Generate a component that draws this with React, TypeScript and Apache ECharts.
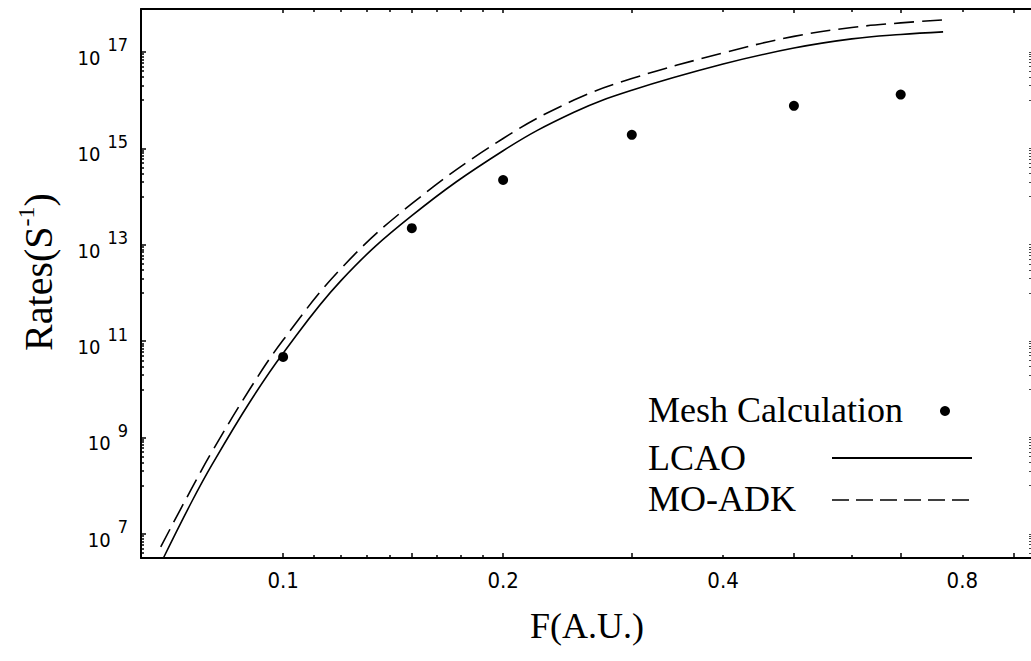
import { useEffect, useRef } from "react";
import * as echarts from "echarts";

// ---- data ----
const meshF = [0.1, 0.15, 0.2, 0.3, 0.5, 0.7];
const meshRate = [4.7e10, 2.2e13, 2.2e14, 1.9e15, 7.6e15, 1.3e16];

const lcaoF = [0.0686, 0.075, 0.08, 0.09, 0.1, 0.12, 0.15, 0.2, 0.25, 0.3, 0.4, 0.5, 0.6, 0.7, 0.8];
const lcaoRate = [3.2e6, 4.7e7, 2.8e8, 5.4e9, 5.6e10, 1.8e12, 4.0e13, 8.9e14, 5.6e15, 1.6e16, 5.6e16, 1.2e17, 1.86e17, 2.3e17, 2.6e17];

const adkF = [0.068, 0.075, 0.08, 0.09, 0.1, 0.12, 0.15, 0.2, 0.25, 0.3, 0.4, 0.5, 0.6, 0.7, 0.8];
const adkRate = [5.4e6, 8.9e7, 5.2e8, 1.0e10, 1.05e11, 3.2e12, 7.1e13, 1.6e15, 1.0e16, 2.8e16, 9.5e16, 2.1e17, 3.2e17, 4.0e17, 4.6e17];

// axis ranges / ticks
const xRange = [0.0639, 1.062];
const yExpRange = [6.5, 17.89];
const xMajorTicks = [0.1, 0.15, 0.2, 0.3, 0.5, 0.7, 1.0];
const xMinorTicks = [0.11, 0.12, 0.13, 0.14, 0.1625, 0.175, 0.1875, 0.4, 0.6, 0.85];
const xTickLabelAt = [0.1, 0.2, 0.4, 0.85];
const xTickLabels = ["0.1", "0.2", "0.4", "0.8"];
const yLabelExponents = [7, 9, 11, 13, 15, 17];
const yMinorMultipliers = [1, 2, 3, 4, 5, 6, 7, 8, 9];

const legendNames = ["Mesh Calculation", "LCAO", "MO-ADK"];

const SERIF = '"Liberation Serif", "Times New Roman", serif';
const NARROW = '"DejaVu Sans Condensed", "Liberation Sans Narrow", "DejaVu Sans", sans-serif';

const lg = (v: number) => Math.log10(v);

export default function App() {
  const ref = useRef<HTMLDivElement>(null);

  useEffect(() => {
    if (!ref.current) return;
    const chart = echarts.init(ref.current, null, { renderer: "svg" });

    const xMin = lg(xRange[0]);
    const xMax = lg(xRange[1]);
    const yMin = yExpRange[0];
    const yMax = yExpRange[1];

    const yMajor = yLabelExponents.slice();
    const yMinor: number[] = [];
    yLabelExponents.forEach((e) => {
      yMinorMultipliers.forEach((k) => yMinor.push(e - 1 + lg(k)));
    });

    const gridBox = { left: 141, top: 9, width: 892, height: 549, outerBoundsMode: "none" };

    const blankAxis = {
      type: "value",
      splitLine: { show: false },
      axisLabel: { show: false },
    };

    const xLabelFormatter = (v: number) => {
      const i = xTickLabelAt.findIndex((a) => Math.abs(lg(a) - v) < 1e-6);
      return i >= 0 ? xTickLabels[i] : "";
    };

    const option: any = {
      animation: false,
      backgroundColor: "#fff",
      grid: [gridBox, { ...gridBox }],
      xAxis: [
        {
          ...blankAxis,
          gridIndex: 0,
          position: "bottom",
          min: xMin,
          max: xMax,
          axisLine: { show: true, onZero: false, lineStyle: { color: "#000", width: 2 } },
          axisTick: { show: true, inside: true, length: 5, customValues: xMajorTicks.map(lg), lineStyle: { color: "#000", width: 1.5 } },
          axisLabel: {
            show: true,
            customValues: xTickLabelAt.map(lg),
            formatter: xLabelFormatter,
            margin: 11,
            color: "#000",
            fontSize: 22,
            fontFamily: NARROW,
          },
          name: "F(A.U.)",
          nameLocation: "middle",
          nameGap: 50,
          nameTextStyle: { color: "#000", fontSize: 36, fontFamily: SERIF },
        },
        {
          ...blankAxis,
          gridIndex: 0,
          position: "top",
          min: xMin,
          max: xMax,
          axisLine: { show: true, onZero: false, lineStyle: { color: "#000", width: 2 } },
          axisTick: { show: true, inside: true, length: 4, customValues: xMajorTicks.map(lg), lineStyle: { color: "#000", width: 1.5 } },
        },
        {
          ...blankAxis,
          gridIndex: 1,
          position: "bottom",
          min: xMin,
          max: xMax,
          axisLine: { show: false, onZero: false },
          axisTick: { show: true, inside: true, length: 3, customValues: xMinorTicks.map(lg), lineStyle: { color: "#000", width: 1.5 } },
        },
        {
          ...blankAxis,
          gridIndex: 1,
          position: "top",
          min: xMin,
          max: xMax,
          axisLine: { show: false, onZero: false },
          axisTick: { show: true, inside: true, length: 3, customValues: xMinorTicks.map(lg), lineStyle: { color: "#000", width: 1.5 } },
        },
      ],
      yAxis: [
        {
          ...blankAxis,
          gridIndex: 0,
          position: "left",
          min: yMin,
          max: yMax,
          axisLine: { show: true, onZero: false, lineStyle: { color: "#000", width: 2 } },
          axisTick: { show: true, inside: true, length: 5, customValues: yMajor, lineStyle: { color: "#000", width: 1.5 } },
          axisLabel: {
            show: true,
            customValues: yMajor,
            margin: 13,
            formatter: (v: number) => `{b|10}{s|${Math.round(v)}}`,
            rich: {
              b: { fontSize: 20, lineHeight: 32, verticalAlign: "bottom", color: "#000", fontFamily: NARROW },
              s: { fontSize: 18, lineHeight: 18, verticalAlign: "top", color: "#000", fontFamily: NARROW, padding: [0, 0, 0, 7] },
            },
          },
        },
        {
          ...blankAxis,
          gridIndex: 0,
          position: "right",
          min: yMin,
          max: yMax,
          axisLine: { show: false, onZero: false },
          axisTick: { show: true, inside: true, length: 4, customValues: yMinor.concat(yMajor), lineStyle: { color: "#444", width: 1 } },
        },
        {
          ...blankAxis,
          gridIndex: 1,
          position: "left",
          min: yMin,
          max: yMax,
          axisLine: { show: false, onZero: false },
          axisTick: { show: true, inside: true, length: 3, customValues: yMinor, lineStyle: { color: "#000", width: 1.5 } },
        },
      ],
      series: [
        {
          name: legendNames[0],
          type: "scatter",
          xAxisIndex: 0,
          yAxisIndex: 0,
          symbol: "circle",
          symbolSize: 10,
          itemStyle: { color: "#000", opacity: 1 },
          data: meshF.map((f, i) => [lg(f), lg(meshRate[i])]),
          silent: true,
        },
        {
          name: legendNames[1],
          type: "line",
          xAxisIndex: 0,
          yAxisIndex: 0,
          smooth: 0.4,
          showSymbol: false,
          lineStyle: { color: "#000", width: 1.6 },
          data: lcaoF.map((f, i) => [lg(f), lg(lcaoRate[i])]),
          silent: true,
        },
        {
          name: legendNames[2],
          type: "line",
          xAxisIndex: 0,
          yAxisIndex: 0,
          smooth: 0.4,
          showSymbol: false,
          lineStyle: { color: "#000", width: 1.6, type: [20, 8] },
          data: adkF.map((f, i) => [lg(f), lg(adkRate[i])]),
          silent: true,
        },
      ],
      graphic: [
        {
          type: "text",
          x: 36,
          y: 272,
          rotation: Math.PI / 2,
          style: {
            text: "{b|Rates(S}{s|-1}{b|)}",
            align: "center",
            verticalAlign: "middle",
            textAlign: "center",
            textVerticalAlign: "middle",
            rich: {
              b: { fontSize: 40, lineHeight: 44, verticalAlign: "bottom", fontFamily: SERIF, fill: "#000", color: "#000" },
              s: { fontSize: 24, lineHeight: 24, verticalAlign: "top", fontFamily: SERIF, fill: "#000", color: "#000" },
            },
          },
        },
        {
          type: "text",
          x: 648,
          y: 410,
          style: { text: legendNames[0], font: `36px ${SERIF}`, fill: "#000", verticalAlign: "middle", textVerticalAlign: "middle" },
        },
        { type: "circle", shape: { cx: 945, cy: 411, r: 5 }, style: { fill: "#000" } },
        {
          type: "text",
          x: 648,
          y: 458,
          style: { text: legendNames[1], font: `36px ${SERIF}`, fill: "#000", verticalAlign: "middle", textVerticalAlign: "middle" },
        },
        { type: "line", shape: { x1: 832, y1: 458, x2: 972, y2: 458 }, style: { stroke: "#000", lineWidth: 2 } },
        {
          type: "text",
          x: 648,
          y: 499,
          style: { text: legendNames[2], font: `36px ${SERIF}`, fill: "#000", verticalAlign: "middle", textVerticalAlign: "middle" },
        },
        { type: "line", shape: { x1: 832, y1: 500, x2: 972, y2: 500 }, style: { stroke: "#000", lineWidth: 1.6, lineDash: [17, 7] } },
      ],
    };

    chart.setOption(option);
    return () => chart.dispose();
  }, []);

  return (
    <div
      ref={ref}
      style={{ position: "fixed", left: 0, top: 0, width: 1031, height: 661, background: "#fff" }}
    />
  );
}
